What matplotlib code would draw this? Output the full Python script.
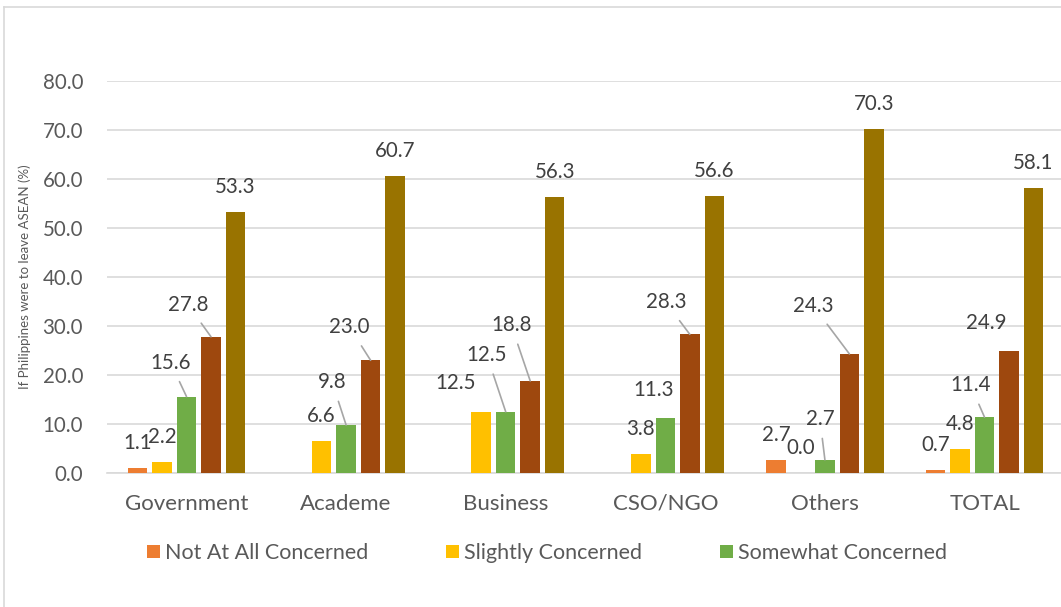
import matplotlib
matplotlib.use("Agg")
import matplotlib.pyplot as plt
import numpy as np
from matplotlib.lines import Line2D

plt.rcParams['font.family'] = ['Lato', 'DejaVu Sans']

categories = ["Government", "Academe", "Business", "CSO/NGO", "Others", "TOTAL"]
seriesNames = ["Not At All Concerned", "Slightly Concerned", "Somewhat Concerned",
               "Very Concerned", "Extremely Concerned"]
notAtAll = [1.1, np.nan, np.nan, np.nan, 2.7, 0.7]
slightly = [2.2, 6.6, 12.5, 3.8, 0.0, 4.8]
somewhat = [15.6, 9.8, 12.5, 11.3, 2.7, 11.4]
very = [27.8, 23.0, 18.8, 28.3, 24.3, 24.9]
extremely = [53.3, 60.7, 56.3, 56.6, 70.3, 58.1]
yTicks = [0, 10, 20, 30, 40, 50, 60, 70, 80]

colors = ["#ED7D31", "#FFC000", "#70AD47", "#9E480E", "#997300"]

# hand-moved data labels: (series, category) -> (dx px, dy px up, leader line)
labelMoves = {
    (2, 0): (-16, 9, True), (3, 0): (-23, 7, True),
    (2, 1): (-14, 18, True), (3, 1): (-21, 8, True),
    (1, 2): (-26, 4, False), (2, 2): (-19, 32, True), (3, 2): (-19, 31, True),
    (2, 3): (-12, 3, False), (3, 3): (-24, 7, True),
    (2, 4): (-5, 16, True), (3, 4): (-36, 23, True),
    (2, 5): (-14, 7, True), (3, 5): (-23, 3, False),
}

allSeries = [notAtAll, slightly, somewhat, very, extremely]

fig = plt.figure(figsize=(10.61, 6.07), dpi=100)
ax = fig.add_axes([106.7 / 1061, 1 - 473 / 607, 957.6 / 1061, 392 / 607])

xs = np.arange(len(categories))
slot = 0.1535
barWidth = 0.122
for s, vals in enumerate(allSeries):
    pos = xs + (s - 2) * slot
    ax.bar(pos, vals, width=barWidth, color=colors[s], label=seriesNames[s], zorder=3)
    for c, v in enumerate(vals):
        if np.isnan(v):
            continue
        dx, dy, leader = labelMoves.get((s, c), (0, 0, False))
        arrow = None
        if leader:
            arrow = dict(arrowstyle='-', color='#a6a6a6', lw=1.2, shrinkA=5, shrinkB=0)
        ax.annotate(f"{v:.1f}", xy=(pos[c], v), xytext=(dx, 25 + dy),
                    textcoords='offset pixels', ha='center', va='center',
                    fontsize=14.8, color='#404040', arrowprops=arrow, zorder=4)

ax.set_xlim(-0.5, len(categories) - 0.5)
ax.set_ylim(0, 80)
ax.set_yticks(yTicks)
ax.set_yticklabels([f"{t:.1f}" for t in yTicks])
ax.set_xticks(xs)
ax.set_xticklabels(categories)
ax.tick_params(axis='both', length=0, labelcolor='#595959')
ax.tick_params(axis='y', pad=17, labelsize=14.8)
ax.tick_params(axis='x', pad=15, labelsize=16)
ax.grid(axis='y', color='#d9d9d9', lw=1.2, zorder=0)
for side in ['top', 'right', 'left']:
    ax.spines[side].set_visible(False)
ax.spines['bottom'].set_color('#d9d9d9')
ax.spines['bottom'].set_linewidth(1.2)
ax.set_ylabel("If Philippines were to leave ASEAN (%)", fontsize=9.5, color='#595959', labelpad=8)

handles, labels = ax.get_legend_handles_labels()
fig.legend(handles[:3], labels[:3], loc='center', bbox_to_anchor=(547 / 1061, 1 - 553 / 607),
           ncol=3, frameon=False, fontsize=15.5, labelcolor='#595959',
           handlelength=0.6, handleheight=0.6, handletextpad=0.25, columnspacing=3.6)

# chart frame
fig.add_artist(Line2D([4 / 1061, 1], [1 - 7 / 607, 1 - 7 / 607], color='#d9d9d9', lw=1.2))
fig.add_artist(Line2D([4 / 1061, 4 / 1061], [0, 1 - 7 / 607], color='#d9d9d9', lw=1.2))

fig.savefig("out.png", dpi=100)
